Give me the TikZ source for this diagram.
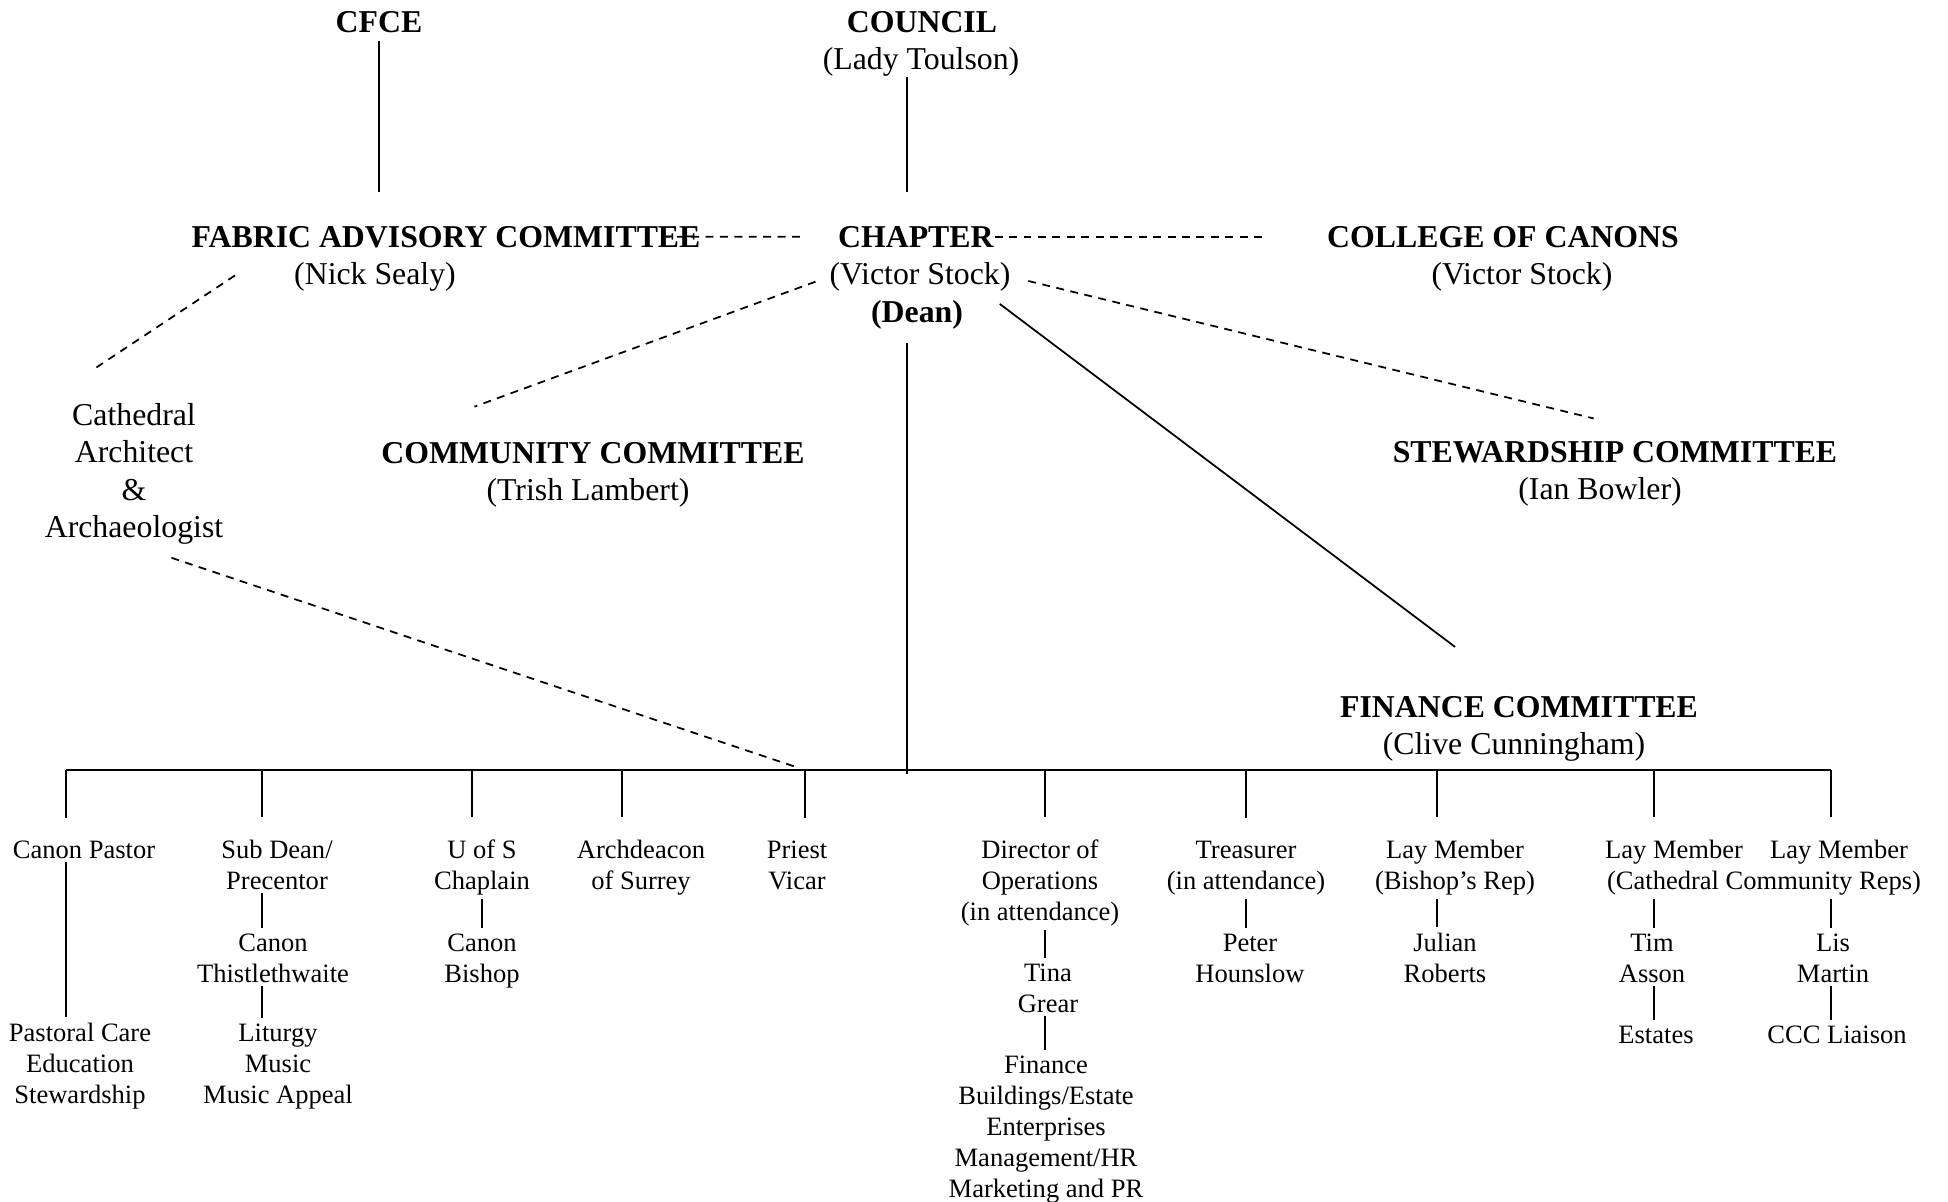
\documentclass[tikz,border=0pt]{standalone}
\usepackage{fontspec}
\setmainfont{Liberation Serif}
\usepackage{tikz}
\usetikzlibrary{calc}

\newcommand{\toptext}{\fontsize{18.1}{21.3}\selectfont}
\newcommand{\lowtext}{\fontsize{15.1}{17.6}\selectfont}

\begin{document}
\begin{tikzpicture}[x=0.02cm, y=-0.02cm, line width=1pt,
  head/.style={font=\toptext, inner sep=0pt, anchor=base, align=center},
  staff/.style={font=\lowtext, inner sep=0pt, anchor=base, align=center},
  link/.style={shorten <=0.06cm, shorten >=0.1cm},
  drop/.style={shorten >=0.44cm},
  dashlink/.style={dash pattern=on 4.5pt off 3.7pt}]
  \useasboundingbox (0,0) rectangle (1948,1201);

  % Nodes (placed at the baseline of their last line)
  \node[head] (cfce) at (379,32) {\textbf{CFCE}};
  \node[head] (council) at (922,32) {\textbf{COUNCIL}};
  \node[head] (councilname) at (921,69.5) {(Lady Toulson)};

  \node[head] (fac) at (446,247) {\textbf{FABRIC ADVISORY COMMITTEE}};
  \node[head] (facname) at (375,284.5) {(Nick Sealy)};
  \node[head] (chapter) at (916,247) {\textbf{CHAPTER}};
  \node[head] (chaptername) at (920,284.5) {(Victor Stock)};
  \node[head] (dean) at (917,322) {\textbf{(Dean)}};
  \node[head] (college) at (1503,247) {\textbf{COLLEGE OF CANONS}};
  \node[head] (collegename) at (1522,284.5) {(Victor Stock)};

  \node[head] (architect) at (134,537.5) {Cathedral\\Architect\\\&\\Archaeologist};
  \node[head] (community) at (593,463) {\textbf{COMMUNITY COMMITTEE}};
  \node[head] (communityname) at (588,500.5) {(Trish Lambert)};
  \node[head] (steward) at (1615,462) {\textbf{STEWARDSHIP COMMITTEE}};
  \node[head] (stewardname) at (1600,499.5) {(Ian Bowler)};
  \node[head] (finance) at (1519,717) {\textbf{FINANCE COMMITTEE}};
  \node[head] (financename) at (1514,754.5) {(Clive Cunningham)};

  \node[staff] (pastor) at (84,858) {Canon Pastor};
  \node[staff] (subdean) at (277,889) {Sub Dean/\\Precentor};
  \node[staff] (uofs) at (482,889) {U of S\\Chaplain};
  \node[staff] (archdeacon) at (641,889) {Archdeacon\\of Surrey};
  \node[staff] (priest) at (797,889) {Priest\\Vicar};
  \node[staff] (director) at (1040,920) {Director of\\Operations\\(in attendance)};
  \node[staff] (treasurer) at (1246,889) {Treasurer\\(in attendance)};
  \node[staff] (layrep) at (1455,889) {Lay Member\\(Bishop's Rep)};
  \node[staff] (laytim) at (1674,858) {Lay Member};
  \node[staff] (laylis) at (1839,858) {Lay Member};
  \node[staff] (reps) at (1764,889) {(Cathedral Community Reps)};

  \node[staff] (pastoral) at (80,1103) {Pastoral Care\\Education\\Stewardship};
  \node[staff] (thistle) at (273,982) {Canon\\Thistlethwaite};
  \node[staff] (liturgy) at (278,1103) {Liturgy\\Music\\Music Appeal};
  \node[staff] (canonbishop) at (482,982) {Canon\\Bishop};
  \node[staff] (tina) at (1048,1012) {Tina\\Grear};
  \node[staff] (tasks) at (1046,1197) {Finance\\Buildings/Estate\\Enterprises\\Management/HR\\Marketing and PR};
  \node[staff] (hounslow) at (1250,982) {Peter\\Hounslow};
  \node[staff] (julian) at (1445,982) {Julian\\Roberts};
  \node[staff] (tim) at (1652,982) {Tim\\Asson};
  \node[staff] (estates) at (1656,1043) {Estates};
  \node[staff] (lis) at (1833,982) {Lis\\Martin};
  \node[staff] (liaison) at (1837,1043) {CCC Liaison};

  % Bus
  \coordinate (spine) at (907,774);
  \coordinate (col1) at (66,770);
  \coordinate (col2) at (262,770);
  \coordinate (col3) at (472,770);
  \coordinate (col4) at (622,770);
  \coordinate (col5) at (805,770);
  \coordinate (col6) at (1045,770);
  \coordinate (col7) at (1246,770);
  \coordinate (col8) at (1437,770);
  \coordinate (col9) at (1654,770);
  \coordinate (col10) at (1831,770);

  % Edges
  \draw[shorten <=0.16cm, shorten >=0.66cm] (cfce.south) -- (cfce.south |- fac.north);
  \draw[shorten >=0.66cm] (spine |- councilname.south) -- (spine |- chapter.north);
  \draw[dashlink, shorten <=-0.78cm, shorten >=0.72cm] (fac.east) -- (chapter.west);
  \draw[dashlink, shorten >=1.2cm] (chapter.east) -- (college.west);
  \draw[dashlink, shorten <=1.4cm, shorten >=1.2cm] (facname.west |- fac.east) -- (architect.north west);
  \draw[dashlink, shorten <=0.28cm, shorten >=2cm] (chaptername.west) -- (community.north west);
  \draw[dashlink, shorten <=0.35cm, shorten >=1.83cm] (chaptername.east) -- (stewardname.east |- steward.north);
  \draw[shorten <=0.9cm, shorten >=1.6cm] (dean.east |- chaptername.east) -- (finance.north);
  \draw[shorten <=0.26cm] (spine |- dean.south) -- (spine);
  \draw[dashlink, shorten <=0.79cm, shorten >=0.2cm] (architect.south) -- (col5);

  \draw[line width=1.6pt] (col1) -- (col10);
  \draw[drop] (col1) -- (col1 |- pastor.north);
  \draw[drop] (col2) -- (col2 |- subdean.north);
  \draw[drop] (col3) -- (col3 |- uofs.north);
  \draw[drop] (col4) -- (col4 |- archdeacon.north);
  \draw[drop] (col5) -- (col5 |- priest.north);
  \draw[drop] (col6) -- (col6 |- director.north);
  \draw[drop] (col7) -- (col7 |- treasurer.north);
  \draw[drop] (col8) -- (col8 |- layrep.north);
  \draw[drop] (col9) -- (col9 |- laytim.north);
  \draw[drop] (col10) -- (col10 |- laylis.north);

  \draw[link] (col1 |- pastor.south) -- (col1 |- pastoral.north);
  \draw[link] (col2 |- subdean.south) -- (col2 |- thistle.north);
  \draw[link] (col2 |- thistle.south) -- (col2 |- liturgy.north);
  \draw[link] (uofs.south) -- (uofs.south |- canonbishop.north);
  \draw[link] (col6 |- director.south) -- (col6 |- tina.north);
  \draw[link] (col6 |- tina.south) -- (col6 |- tasks.north);
  \draw[link] (col7 |- treasurer.south) -- (col7 |- hounslow.north);
  \draw[link] (col8 |- layrep.south) -- (col8 |- julian.north);
  \draw[link] (col9 |- reps.south) -- (col9 |- tim.north);
  \draw[link] (col9 |- tim.south) -- (col9 |- estates.north);
  \draw[link] (col10 |- reps.south) -- (col10 |- lis.north);
  \draw[link] (col10 |- lis.south) -- (col10 |- liaison.north);
\end{tikzpicture}
\end{document}
